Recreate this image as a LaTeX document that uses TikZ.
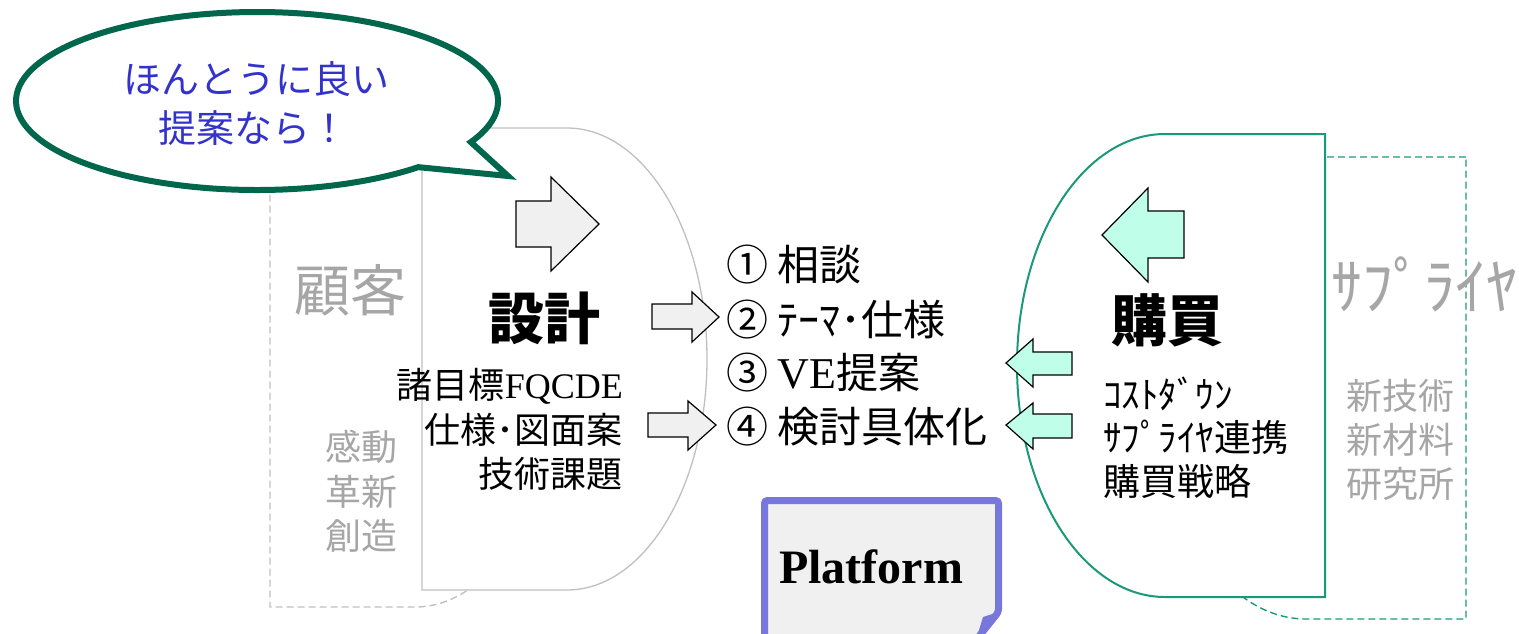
\documentclass[tikz,border=0pt]{standalone}
\usepackage{fontspec}
\setmainfont{Liberation Serif}
\newfontfamily\jp{Noto Sans CJK JP}

\tikzset{
  every node/.style = {inner sep = 0pt},
  back/.style = {dash pattern = on 7pt off 4pt, line width = 1.4pt},
  blockArrow/.style = {draw = black, line width = 1.2pt, line join = miter},
  grayBig/.style = {text = noteGray, font = \jp\fontsize{56}{60}\selectfont},
  grayNote/.style = {text = noteGray, font = \jp\fontsize{36}{40}\selectfont},
  title/.style = {font = \jp\bfseries\fontsize{56}{60}\selectfont},
  item/.style = {font = \jp\fontsize{36}{40}\selectfont}
}

\begin{document}
\begin{tikzpicture}[x = 1pt, y = -1pt]
  \definecolor{lineGray}{RGB}{192,192,192}
  \definecolor{noteGray}{RGB}{166,166,166}
  \definecolor{tealGreen}{RGB}{26,153,122}
  \definecolor{bubbleGreen}{RGB}{0,102,76}
  \definecolor{bubbleBlue}{RGB}{51,51,204}
  \definecolor{arrowGray}{RGB}{240,240,240}
  \definecolor{arrowTeal}{RGB}{191,255,234}
  \definecolor{platformBlue}{RGB}{120,120,220}

  \useasboundingbox (0,0) rectangle (1519,633);

  \draw[back, lineGray] (270,145) -- (415,145) arc[start angle = -90, end angle = 90, x radius = 140, y radius = 231] -- (270,607) -- cycle;
  \draw[back, tealGreen] (1466,157) -- (1306,157) arc[start angle = -90, end angle = -270, x radius = 148, y radius = 231] -- (1466,619) -- cycle;

  \node[grayBig] (customer) at (350,290) {顧客};
  \node[grayNote] (kando) at (361,447) {感動};
  \node[grayNote] (kakushin) at (361,492) {革新};
  \node[grayNote] (sozo) at (361,536) {創造};
  \node[text = noteGray, font = \jp\fontsize{62}{66}\selectfont, anchor = west] (supplier) at (1331,284) {ｻﾌﾟﾗｲﾔ};
  \node[grayNote] (newTech) at (1400,396) {新技術};
  \node[grayNote] (newMat) at (1400,440) {新材料};
  \node[grayNote] (lab) at (1400,484) {研究所};

  \filldraw[draw = lineGray, fill = white, line width = 1.3pt] (422,128) -- (567,128) arc[start angle = -90, end angle = 90, x radius = 140, y radius = 231] -- (422,590) -- cycle;
  \filldraw[draw = tealGreen, fill = white, line width = 2pt] (1325,134) -- (1165,134) arc[start angle = -90, end angle = -270, x radius = 148, y radius = 231.5] -- (1325,597) -- cycle;

  \filldraw[draw = bubbleGreen, fill = white, line width = 6pt, line join = miter] (470.8,142.1) arc[start angle = 27.5, end angle = -312, x radius = 241, y radius = 89] -- (508,176) -- cycle;
  \node[text = bubbleBlue, font = \jp\fontsize{38}{42}\selectfont] (really) at (256,79) {ほんとうに良い};
  \node[text = bubbleBlue, font = \jp\fontsize{38}{42}\selectfont] (proposal) at (253,128) {提案なら！};

  \filldraw[blockArrow, fill = arrowGray] (516,201) -- (551,201) -- (551,177) -- (599,224) -- (551,271) -- (551,247) -- (516,247) -- cycle;
  \filldraw[blockArrow, fill = arrowGray] (652,304) -- (692,304) -- (692,292) -- (719,317) -- (692,342) -- (692,329) -- (652,329) -- cycle;
  \filldraw[blockArrow, fill = arrowGray] (648,413) -- (688,413) -- (688,401) -- (716,425) -- (688,450) -- (688,437) -- (648,437) -- cycle;

  \filldraw[blockArrow, fill = arrowTeal] (1184,211) -- (1148,211) -- (1148,188) -- (1102,235) -- (1148,282) -- (1148,258) -- (1184,258) -- cycle;
  \filldraw[blockArrow, fill = arrowTeal] (1072,352) -- (1033,352) -- (1033,339) -- (1006,363) -- (1033,387) -- (1033,375) -- (1072,375) -- cycle;
  \filldraw[blockArrow, fill = arrowTeal] (1072,414) -- (1033,414) -- (1033,403) -- (1006,425) -- (1033,449) -- (1033,438) -- (1072,438) -- cycle;

  \node[title] (design) at (544,318) {設計};
  \node[item, anchor = east] (goals) at (623,386) {諸目標{\rmfamily FQCDE}};
  \node[item, anchor = east] (spec) at (623,430) {仕様･図面案};
  \node[item, anchor = east] (issues) at (623,474) {技術課題};

  \node[font = \jp\fontsize{42}{46}\selectfont, anchor = west] (talk) at (726,265) {① 相談};
  \node[font = \jp\fontsize{42}{46}\selectfont, anchor = west] (theme) at (726,320) {② ﾃｰﾏ･仕様};
  \node[font = \jp\fontsize{42}{46}\selectfont, anchor = west] (ve) at (726,373) {③ {\rmfamily\fontsize{44}{46}\selectfont VE}提案};
  \node[font = \jp\fontsize{42}{46}\selectfont, anchor = west] (detail) at (726,427) {④ 検討具体化};

  \node[title] (purchase) at (1167,320) {購買};
  \node[font = \jp\fontsize{37}{40}\selectfont, anchor = west] (costDown) at (1103,394) {ｺｽﾄﾀﾞｳﾝ};
  \node[font = \jp\fontsize{37}{40}\selectfont, anchor = west] (link) at (1103,437) {ｻﾌﾟﾗｲﾔ連携};
  \node[font = \jp\fontsize{37}{40}\selectfont, anchor = west] (strategy) at (1103,481) {購買戦略};

  \filldraw[draw = platformBlue, fill = arrowGray, line width = 7pt, rounded corners = 3pt] (764.5,500.5) -- (998.5,500.5) -- (998.5,612) -- (976,640) -- (764.5,640) -- cycle;
  \fill[platformBlue] (998.5,612) -- (983,617) -- (976,640) -- cycle;
  \node[font = \bfseries\fontsize{48}{50}\selectfont, anchor = base] (platform) at (871,583) {Platform};
\end{tikzpicture}
\end{document}
